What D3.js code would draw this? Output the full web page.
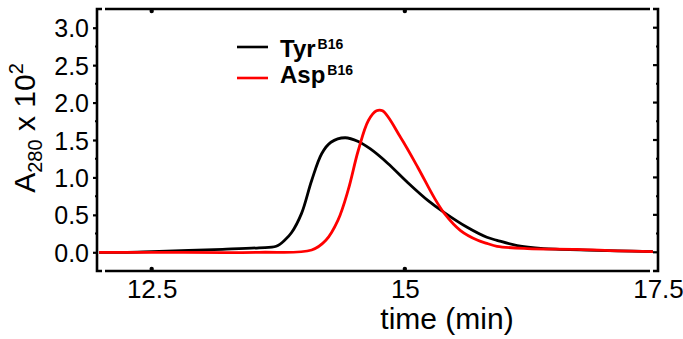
<!DOCTYPE html>
<head>
  <meta charset='utf-8'>
  <script src="https://d3js.org/d3.v7.min.js"></script>
  <style>
    body { margin: 0; background: #fff; }
    text { font-family: "Liberation Sans", Arial, sans-serif; fill: #000; }
  </style>
</head>
<body>
  <div id="container"></div>
  <script type="text/javascript">

    // traces: time (min), A280 x 10^2
    var tyr_time = [11.98, 12.22, 12.5, 13.2, 13.56, 13.73, 13.82, 13.88, 13.98, 14.08, 14.18, 14.27, 14.41,
                    14.54, 14.66, 14.83, 15.03, 15.23, 15.39, 15.62, 15.81, 15.91, 16.11, 16.37,
                    16.53, 16.8, 17.1, 17.45];
    var tyr_abs  = [0.0, 0.0, 0.01, 0.04, 0.06, 0.08, 0.17, 0.26, 0.52, 0.96, 1.32, 1.47, 1.53,
                    1.48, 1.38, 1.19, 0.93, 0.69, 0.53, 0.33, 0.20, 0.16, 0.09, 0.05,
                    0.04, 0.03, 0.02, 0.01];

    var asp_time = [11.98, 12.5, 13.56, 14.08, 14.22, 14.34, 14.44, 14.54, 14.64, 14.72, 14.78, 14.96,
                    15.13, 15.29, 15.39, 15.55, 15.72, 15.81, 15.91, 16.21, 16.7, 17.1, 17.45];
    var asp_abs  = [0.0, 0.0, 0.0, 0.03, 0.16, 0.43, 0.83, 1.36, 1.76, 1.89, 1.89, 1.53,
                    1.13, 0.73, 0.52, 0.29, 0.16, 0.12, 0.08, 0.05, 0.04, 0.02, 0.01];

    var x_ticks = [12.5, 15, 17.5];
    var y_ticks = [0, 0.5, 1, 1.5, 2, 2.5, 3];
    var y_minor = [0.25, 0.75, 1.25, 1.75, 2.25, 2.75];

    var W = 683, H = 339;
    var x0 = 97, x1 = 658, y0 = 9, y1 = 271;

    var svg = d3.select("#container").append("svg")
                .attr("width", W).attr("height", H);

    var x = d3.scaleLinear().domain([11.96, 17.5]).range([x0, x1]);
    var y = d3.scaleLinear().domain([-0.25, 3.25]).range([y1, y0]);

    // frame, drawn as brackets like the original
    var frame = svg.append("g")
                   .attr("fill", "none")
                   .attr("stroke", "#000")
                   .attr("stroke-width", 2.6);
    frame.append("path").attr("d", "M" + (x0 + 5) + "," + y0 + "H" + x0 + "V" + y1 + "H" + (x0 + 5));
    frame.append("path").attr("d", "M" + (x1 - 5) + "," + y0 + "H" + x1 + "V" + y1 + "H" + (x1 - 5));
    frame.append("line").attr("x1", x0 + 8).attr("x2", x1 - 8).attr("y1", y0).attr("y2", y0);
    frame.append("line").attr("x1", x0 + 8).attr("x2", x1 - 8).attr("y1", y1).attr("y2", y1);

    // y axis: ticks outside on the left, inside on the right
    var yaxis = d3.axisLeft(y).tickValues(y_ticks).tickSize(4).tickPadding(4)
                  .tickFormat(d3.format(".1f"));
    var gy = svg.append("g").attr("transform", "translate(" + x0 + ",0)").call(yaxis);
    gy.select(".domain").remove();
    gy.selectAll("line").attr("stroke-width", 2.2);
    gy.selectAll("text").attr("font-size", 25).attr("dy", "0.36em")
      .attr("font-family", "Liberation Sans, Arial, sans-serif");

    svg.selectAll(".yminor").data(y_minor).enter().append("line")
       .attr("x1", x0 - 2).attr("x2", x0)
       .attr("y1", function(d){ return y(d); }).attr("y2", function(d){ return y(d); })
       .attr("stroke", "#000").attr("stroke-width", 2);

    var gr = svg.append("g");
    gr.selectAll("line.maj").data(y_ticks).enter().append("line")
      .attr("x1", x1 - 5).attr("x2", x1)
      .attr("y1", function(d){ return y(d); }).attr("y2", function(d){ return y(d); })
      .attr("stroke", "#000").attr("stroke-width", 2.2);
    gr.selectAll("line.min").data(y_minor).enter().append("line")
      .attr("x1", x1 - 2).attr("x2", x1)
      .attr("y1", function(d){ return y(d); }).attr("y2", function(d){ return y(d); })
      .attr("stroke", "#000").attr("stroke-width", 2);

    // x axis: little dots on top and bottom, labels below
    var xaxis = d3.axisBottom(x).tickValues(x_ticks).tickSize(0).tickPadding(9)
                  .tickFormat(function(d){ return String(d); });
    var gx = svg.append("g").attr("transform", "translate(0," + y1 + ")").call(xaxis);
    gx.select(".domain").remove();
    gx.selectAll("text").attr("font-size", 26).attr("dy", "0.71em")
      .attr("font-family", "Liberation Sans, Arial, sans-serif");

    [y0 + 2, y1 - 2].forEach(function(yy){
      svg.selectAll(null).data(x_ticks.slice(0, 2)).enter().append("circle")
         .attr("cx", function(d){ return x(d); }).attr("cy", yy)
         .attr("r", 2.2).attr("fill", "#000");
    });

    // axis titles
    svg.append("text")
       .attr("x", 447).attr("y", 329)
       .attr("text-anchor", "middle")
       .attr("font-size", 30)
       .text("time (min)");

    var ylab = svg.append("text")
       .attr("transform", "translate(35,128) rotate(-90)")
       .attr("text-anchor", "middle")
       .attr("font-size", 30);
    ylab.append("tspan").text("A");
    ylab.append("tspan").attr("font-size", 20).attr("dy", 7).text("280");
    ylab.append("tspan").attr("dy", -7).text(" x 10");
    ylab.append("tspan").attr("font-size", 20).attr("dy", -12).text("2");

    // traces
    var line = d3.line()
                 .x(function(d){ return x(d[0]); })
                 .y(function(d){ return y(d[1]); })
                 .curve(d3.curveCatmullRom.alpha(0.5));

    var tyr = d3.zip(tyr_time, tyr_abs);
    var asp = d3.zip(asp_time, asp_abs);

    svg.append("path").datum(tyr).attr("d", line)
       .attr("fill", "none").attr("stroke", "#000").attr("stroke-width", 2.8);
    svg.append("path").datum(asp).attr("d", line)
       .attr("fill", "none").attr("stroke", "#f00").attr("stroke-width", 2.8);

    // legend
    var legend = [["Tyr", "#000", 47, 57], ["Asp", "#f00", 78, 83]];
    legend.forEach(function(l){
      svg.append("line").attr("x1", 237).attr("x2", 268)
         .attr("y1", l[2]).attr("y2", l[2])
         .attr("stroke", l[1]).attr("stroke-width", 2.6);
      var t = svg.append("text").attr("x", 280).attr("y", l[3])
                 .attr("font-size", 24).attr("font-weight", "bold");
      t.append("tspan").text(l[0]);
      t.append("tspan").attr("font-size", 14).attr("dy", -8).attr("dx", 2).text("B16");
    });

  </script>
</body>
